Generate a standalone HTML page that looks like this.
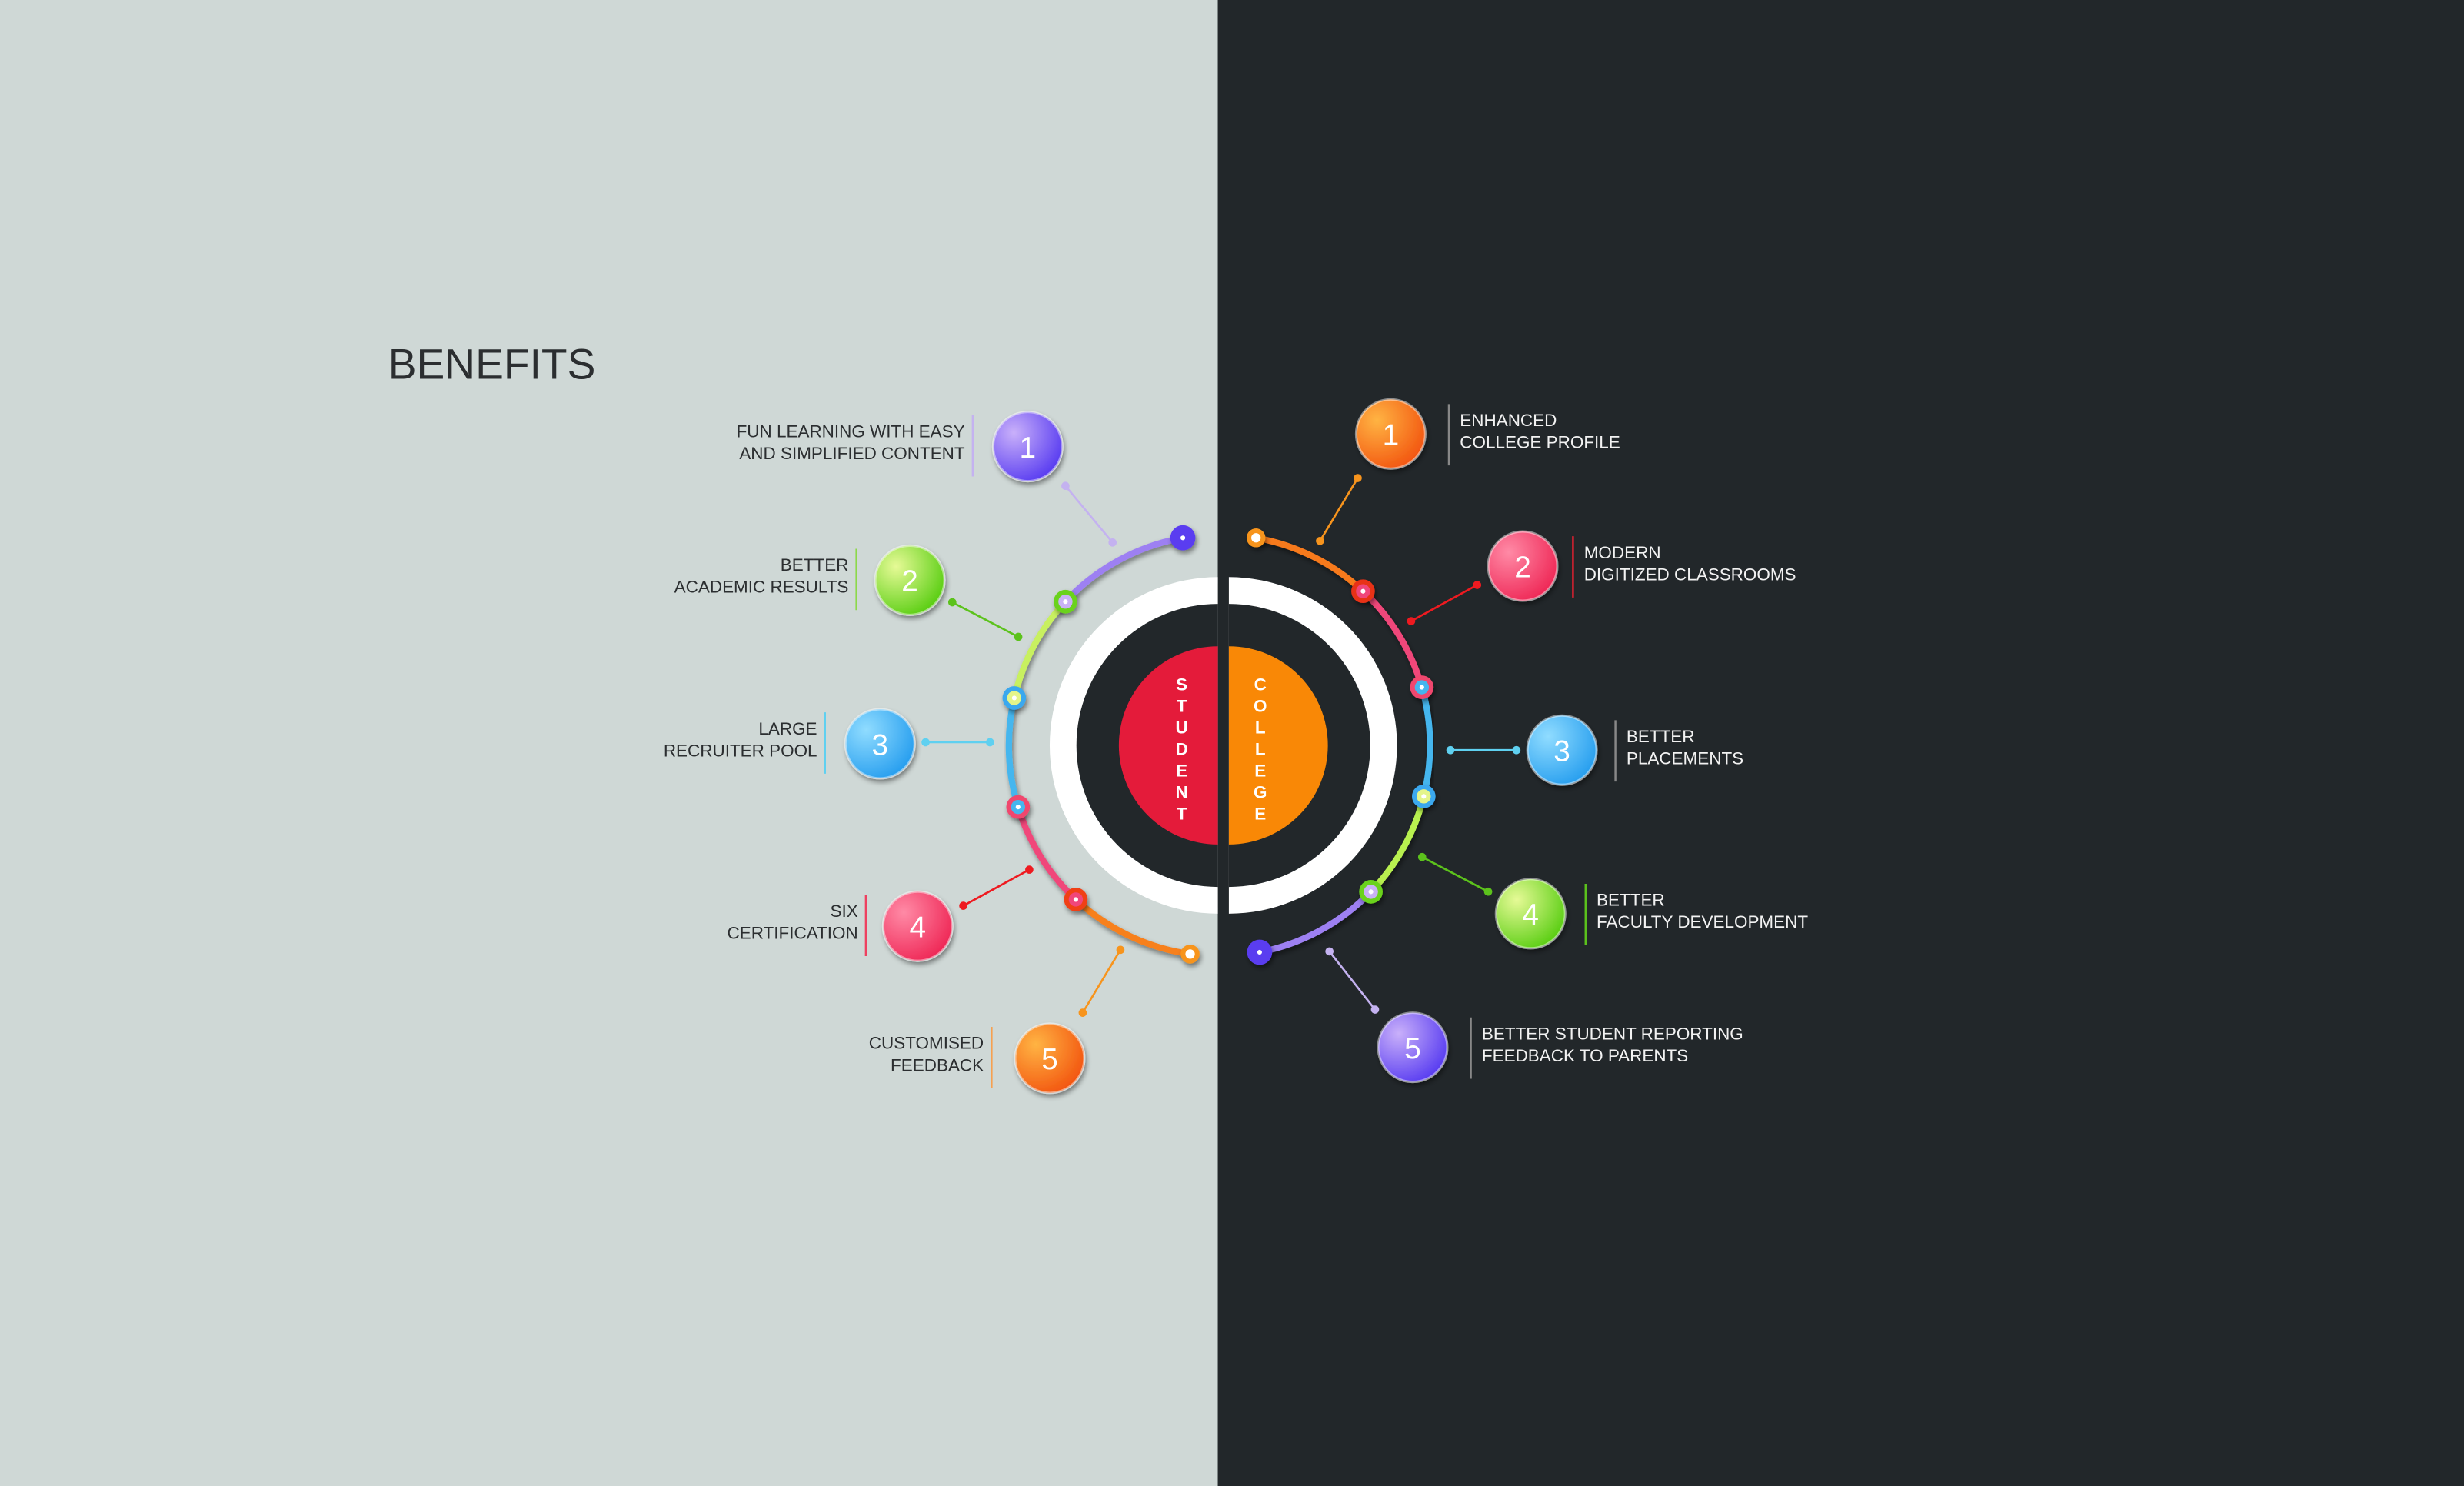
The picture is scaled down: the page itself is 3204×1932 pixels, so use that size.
<!DOCTYPE html>
<html><head><meta charset="utf-8"><style>
html,body{margin:0;padding:0;background:#22272a;}
svg{display:block;}
text{font-family:"Liberation Sans",sans-serif;}
</style></head><body>
<svg id="chart" width="3204" height="1932" viewBox="0 0 1568 945" preserveAspectRatio="none" xmlns="http://www.w3.org/2000/svg">
<defs>
<filter id="sh" x="-50%" y="-50%" width="200%" height="200%"><feDropShadow dx="1" dy="2" stdDeviation="1.6" flood-color="#000" flood-opacity="0.45"/></filter>
<radialGradient id="g-purple" cx="0.3" cy="0.3" r="0.8"><stop offset="0" stop-color="#c9b0fa"/><stop offset="1" stop-color="#5438f0"/></radialGradient>
<radialGradient id="g-green" cx="0.3" cy="0.3" r="0.8"><stop offset="0" stop-color="#e6fa96"/><stop offset="1" stop-color="#55cc0e"/></radialGradient>
<radialGradient id="g-blue" cx="0.3" cy="0.3" r="0.8"><stop offset="0" stop-color="#90dcff"/><stop offset="1" stop-color="#239cee"/></radialGradient>
<radialGradient id="g-pink" cx="0.3" cy="0.3" r="0.8"><stop offset="0" stop-color="#ff8aa6"/><stop offset="1" stop-color="#ee2453"/></radialGradient>
<radialGradient id="g-orange" cx="0.3" cy="0.3" r="0.8"><stop offset="0" stop-color="#ffb443"/><stop offset="1" stop-color="#f2520e"/></radialGradient>
</defs>
<rect x="0" y="0" width="775" height="945" fill="#cfd8d6"/>
<rect x="775" y="0" width="793" height="945" fill="#22272a"/>
<text x="247" y="241" font-size="27" fill="#2b2e30">BENEFITS</text>
<path d="M775,367 A107,107 0 0 0 775,581 Z" fill="#ffffff"/>
<path d="M775,384 A90,90 0 0 0 775,564 Z" fill="#22272a"/>
<path d="M775,411 A63,63 0 0 0 775,537 Z" fill="#e41b3a"/>
<path d="M782,367 A107,107 0 0 1 782,581 Z" fill="#ffffff"/>
<path d="M782,384 A90,90 0 0 1 782,564 Z" fill="#22272a"/>
<path d="M782,411 A63,63 0 0 1 782,537 Z" fill="#f98806"/>
<g id="centerText"></g>
<g id="arcs"></g>
<g id="items"></g>
</svg>
<script>
const NS='http://www.w3.org/2000/svg';
const CX=776, CY=474, R=134;
const leftAngles=[260,223,193,163,133,98];
const leftSegColors=['#9d80f2','#c8f060','#45b6ee','#f0467a','#f7801e'];
const leftRingColors=['#6ad21a','#3aa8ee','#f0466e','#f04018'];
const leftCoreColors=['#c9b2f5','#e4f58a','#45b6ee','#f0467a'];
const rightAngles=[-80,-47,-16,14,44,79];
const rightSegColors=['#f77a1e','#f0467a','#45b6ee','#b8f050','#9d80f2'];
const rightRingColors=['#e83018','#f0466e','#3aa8ee','#6ad21a'];
const rightCoreColors=['#f0467a','#45b6ee','#e4f58a','#c9b2f5'];
const leftNums=['1','2','3','4','5'];
const leftLabels=[['FUN LEARNING WITH EASY','AND SIMPLIFIED CONTENT'],['BETTER','ACADEMIC RESULTS'],['LARGE','RECRUITER POOL'],['SIX','CERTIFICATION'],['CUSTOMISED','FEEDBACK']];
const leftBallPos=[[654,284],[579,369],[560,473],[584,589],[668,673]];
const leftBallFill=['purple','green','blue','pink','orange'];
const leftLines=[[678,309,708,345],[606,383,648,405],[589,472,630,472],[613,576,655,553],[689,644,713,604]];
const leftLineColor=['#c4b2f0','#5cc21c','#5fd0f0','#ee1a20','#f7941d'];
const leftTextEnd=[614,540,520,546,626];
const rightNums=['1','2','3','4','5'];
const rightLabels=[['ENHANCED','COLLEGE PROFILE'],['MODERN','DIGITIZED CLASSROOMS'],['BETTER','PLACEMENTS'],['BETTER','FACULTY DEVELOPMENT'],['BETTER STUDENT REPORTING','FEEDBACK TO PARENTS']];
const rightBallPos=[[885,276],[969,360],[994,477],[974,581],[899,666]];
const rightBallFill=['orange','pink','blue','green','purple'];
const rightLines=[[864,304,840,344],[940,372,898,395],[923,477,965,477],[905,545,947,567],[846,605,875,642]];
const rightLineColor=['#f7941d','#ee1a20','#5fd0f0','#5cc21c','#c4b2f0'];
const rightSepColor=['#888','#e02030','#888','#5cc21c','#888'];
const leftSepColor=['#c4b2f0','#8cd84a','#5fd0f0','#ee4060','#f7a050'];
const rightTextStart=[929,1008,1035,1016,943];

function el(tag,attrs,parent){const e=document.createElementNS(NS,tag);for(const k in attrs)e.setAttribute(k,attrs[k]);parent.appendChild(e);return e;}
function pt(a){const r=a*Math.PI/180;return [CX+R*Math.cos(r),CY+R*Math.sin(r)];}

const arcs=document.getElementById('arcs');
function drawArc(angles,segCols,ringCols,coreCols,sweep,side){
  for(let i=0;i<segCols.length;i++){
    const p1=pt(angles[i]),p2=pt(angles[i+1]);
    const p=el('path',{d:`M${p1[0]},${p1[1]} A${R},${R} 0 0 ${sweep} ${p2[0]},${p2[1]}`,fill:'none',stroke:segCols[i],'stroke-width':4,'stroke-linecap':'round',filter:'url(#sh)'},arcs);
    
    
  }
  for(let i=0;i<ringCols.length;i++){
    const c=pt(angles[i+1]);
    const g=el('g',{},arcs);
    
    
    el('circle',{cx:c[0],cy:c[1],r:7.5,fill:ringCols[i],filter:'url(#sh)'},g);
    el('circle',{cx:c[0],cy:c[1],r:4.5,fill:coreCols[i]},g);
    el('circle',{cx:c[0],cy:c[1],r:1.5,fill:'#fff'},g);
  }
}
drawArc(leftAngles,leftSegColors,leftRingColors,leftCoreColors,0,'student');
drawArc(rightAngles,rightSegColors,rightRingColors,rightCoreColors,1,'college');
function endDot(a,kind,name){
  const c=pt(a);const g=el('g',{},arcs);
  
  
  if(kind==='indigo'){el('circle',{cx:c[0],cy:c[1],r:8,fill:'#5a3ef0',filter:'url(#sh)'},g);el('circle',{cx:c[0],cy:c[1],r:1.5,fill:'#fff'},g);}
  else{el('circle',{cx:c[0],cy:c[1],r:6,fill:'#f7941d',filter:'url(#sh)'},g);el('circle',{cx:c[0],cy:c[1],r:3,fill:'#fff'},g);}
}
endDot(leftAngles[0],'indigo','student-arc-start');
endDot(leftAngles[5],'orange','student-arc-end');
endDot(rightAngles[0],'orange','college-arc-start');
endDot(rightAngles[5],'indigo','college-arc-end');

const ct=document.getElementById('centerText');
const sw='STUDENT',cw='COLLEGE';
for(let i=0;i<7;i++){
  const t=el('text',{x:752,y:439+i*13.7,'font-size':11,'font-weight':'bold',fill:'#fff','text-anchor':'middle'},ct);
  t.textContent=sw[i];
  
  
  const u=el('text',{x:802,y:439+i*13.7,'font-size':11,'font-weight':'bold',fill:'#fff','text-anchor':'middle'},ct);
  u.textContent=cw[i];
  
  
}

const items=document.getElementById('items');
function drawItems(nums,labels,pos,fills,lines,lcols,textX,sepCols,side){
  for(let i=0;i<nums.length;i++){
    const g=el('g',{},items);
    
    
    const L=lines[i];
    const ln=el('line',{x1:L[0],y1:L[1],x2:L[2],y2:L[3],stroke:lcols[i],'stroke-width':1.3},g);
    
    
    el('circle',{cx:L[0],cy:L[1],r:2.6,fill:lcols[i]},g);
    el('circle',{cx:L[2],cy:L[3],r:2.6,fill:lcols[i]},g);
    const b=pos[i];
    const ball=el('circle',{cx:b[0],cy:b[1],r:22,fill:'url(#g-'+fills[i]+')',stroke:'rgba(255,255,255,0.45)','stroke-width':1.5,filter:'url(#sh)'},g);
    
    
    const n=el('text',{x:b[0],y:b[1]+7,'font-size':19,fill:'#fff','text-anchor':'middle'},g);
    n.textContent=nums[i];
    const left=side==='student';
    const lab=labels[i];
    const midY=b[1]+(left?-3:-2);
    const y0=midY-7+4;
    const sepX=left?textX[i]+5:textX[i]-7;
    const sep=el('line',{x1:sepX,y1:y0-14,x2:sepX,y2:y0+25,stroke:sepCols[i],'stroke-width':1.2},g);
    
    
    const t=el('text',{x:textX[i],y:y0,'font-size':11,fill:left?'#2b2e30':'#f2f2f2','text-anchor':left?'end':'start'},g);
    
    
    lab.forEach((s,k)=>{const sp=el('tspan',{x:textX[i],dy:k?14:0},t);sp.textContent=s;});
  }
}
drawItems(leftNums,leftLabels,leftBallPos,leftBallFill,leftLines,leftLineColor,leftTextEnd,leftSepColor,'student');
drawItems(rightNums,rightLabels,rightBallPos,rightBallFill,rightLines,rightLineColor,rightTextStart,rightSepColor,'college');
</script>
</body></html>
